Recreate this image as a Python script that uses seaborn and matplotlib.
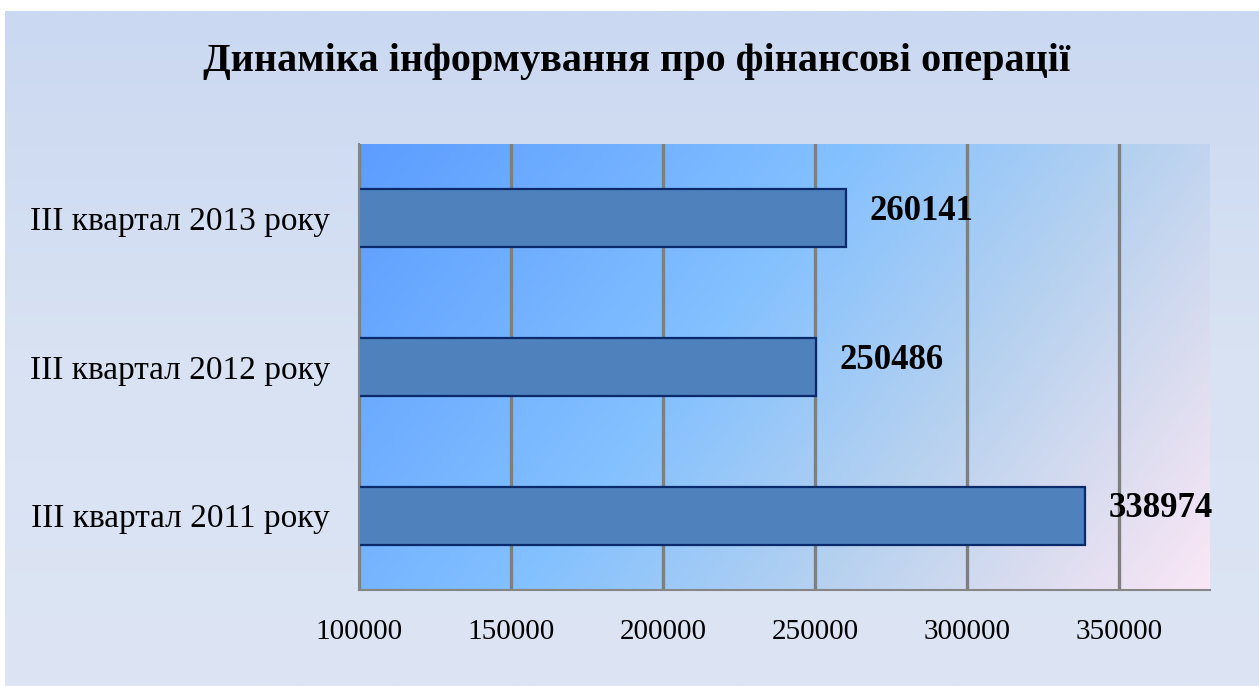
import matplotlib.pyplot as plt
import matplotlib.colors as mcolors
import seaborn as sns
import numpy as np
import pandas as pd

# data
periods = ['III квартал 2013 року', 'III квартал 2012 року', 'III квартал 2011 року']
counts = [260141, 250486, 338974]
x_ticks = [100000, 150000, 200000, 250000, 300000, 350000]

df = pd.DataFrame({'period': periods, 'count': counts})

sns.set_style('white')
plt.rcParams['font.family'] = ['Liberation Serif', 'DejaVu Serif']

W, H = 1259, 686
fig = plt.figure(figsize=(W / 100, H / 100), dpi=100, facecolor='white')

# light blue backdrop of the chart area
bg = fig.add_axes([5 / W, 0, 1 - 5 / W, (H - 11) / H], zorder=-5)
bg_cmap = mcolors.LinearSegmentedColormap.from_list('bg', ['#CAD8F1', '#D8E2F3', '#DDE5F4'])
bg.imshow(np.linspace(0, 1, 256).reshape(-1, 1), cmap=bg_cmap, aspect='auto',
          extent=[0, 1, 0, 1], origin='upper')
bg.set_axis_off()

ax = fig.add_axes([359 / W, 1 - 590 / H, (1210 - 359) / W, (590 - 144) / H])
ax.set_facecolor('none')

xmin, xmax = 100000, 380000
# diagonal blue -> pink fill of the plot area
gx, gy = np.meshgrid(np.linspace(0, 1, 300), np.linspace(0, 1, 150))
t = np.clip(0.72 * gx + 0.28 * gy, 0, 1)
plot_cmap = mcolors.LinearSegmentedColormap.from_list(
    'plot', [(0, '#5C9DFF'), (0.42, '#84C1FF'), (0.68, '#B8D2EF'), (0.85, '#DCDDF0'), (1, '#FAE7F6')])
ax.imshow(t, cmap=plot_cmap, aspect='auto', extent=[xmin, xmax, 2.5, -0.5],
          origin='upper', zorder=-2, interpolation='bilinear')

sns.barplot(data=df, x='count', y='period', orient='h', color='#4F81BD', saturation=1,
            width=0.39, edgecolor='#0B2A6B', linewidth=1.6, ax=ax, zorder=2)

ax.set_xlim(xmin, xmax)
ax.set_ylim(2.5, -0.5)
ax.set_xticks(x_ticks)
ax.set_xticklabels([str(v) for v in x_ticks])
ax.set_axisbelow(True)
ax.xaxis.grid(True, color='#7F7F7F', linewidth=2.4)
ax.yaxis.grid(False)

ax.set_yticks(range(len(periods)))
ax.set_yticklabels(periods)
ax.set_yticks([-0.5, 0.5, 1.5, 2.5], minor=True)
ax.tick_params(axis='y', which='major', length=0, pad=21, labelsize=24, labelcolor='black')
ax.tick_params(axis='y', which='minor', length=6, width=1.5, color='#868686', direction='out')
ax.tick_params(axis='x', length=7, width=1.2, color='#868686', direction='out', pad=14,
               labelsize=21, labelcolor='black')

for side in ['top', 'right']:
    ax.spines[side].set_visible(False)
for side in ['left', 'bottom']:
    ax.spines[side].set_color('#868686')
    ax.spines[side].set_linewidth(1.5)

ax.set_xlabel('')
ax.set_ylabel('')

for i, v in enumerate(counts):
    ax.annotate(str(v), xy=(v, i), xytext=(17, 5), textcoords='offset points',
                ha='left', va='center', fontsize=25, fontweight='bold', color='black',
                annotation_clip=False)

fig.text(0.506, 1 - 62 / H, 'Динаміка інформування про фінансові операції',
         ha='center', va='center', fontsize=29, fontweight='bold', color='black')

fig.savefig('out.png', dpi=100, facecolor=fig.get_facecolor())
